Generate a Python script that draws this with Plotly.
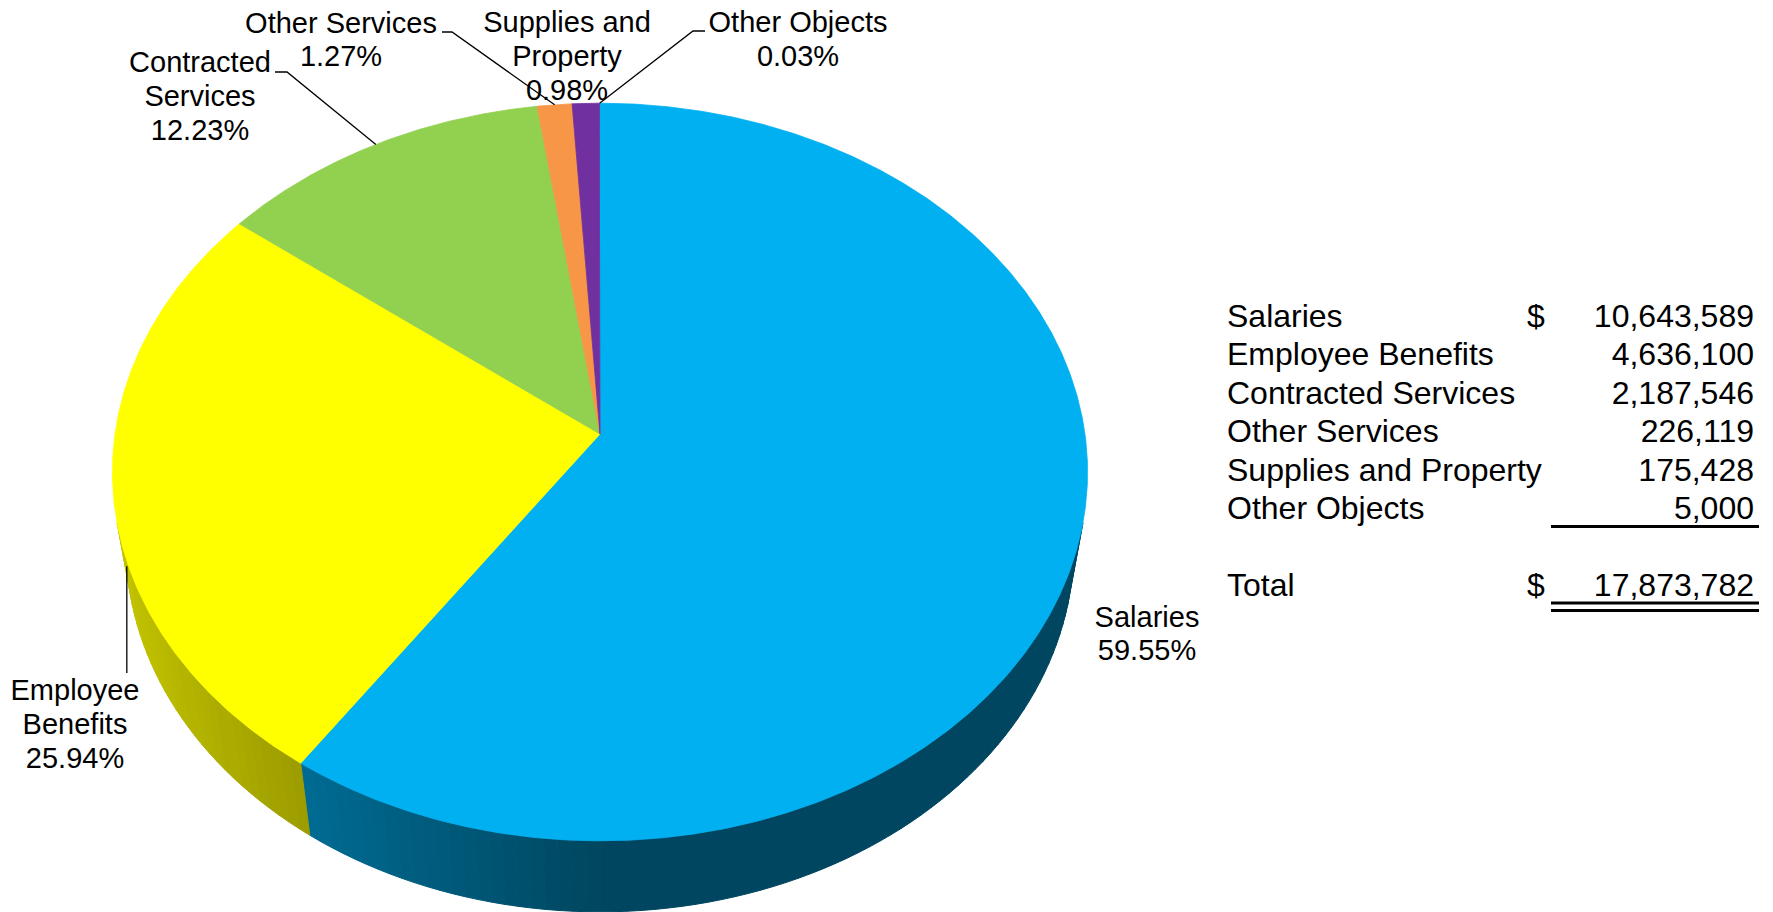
import numpy as np
import plotly.graph_objects as go

# ---- data ----
categories = ["Salaries", "Employee Benefits", "Contracted Services",
              "Other Services", "Supplies and Property", "Other Objects"]
amounts = [10643589, 4636100, 2187546, 226119, 175428, 5000]
percents = [59.55, 25.94, 12.23, 1.27, 0.98, 0.03]
slice_colors = ["#00B0F0", "#FFFF00", "#92D050", "#F79646", "#7030A0", "#5B3C9E"]

# label text lines (without the percentage, which is appended from `percents`)
label_lines = [["Salaries"], ["Employee", "Benefits"], ["Contracted", "Services"],
               ["Other Services"], ["Supplies and", "Property"], ["Other Objects"]]

# ---- page / canvas ----
W, H = 1773, 912
FONT = "Liberation Sans, Arial, sans-serif"
FS_LABEL = 29
FS_TABLE = 32

# ---- 3-D pie camera ----
CX, CY = 600.0, 434.0        # screen position of the pie centre
TILT = np.radians(48.8)      # elevation of the viewer
DIST = 6.39                  # viewer distance (in pie radii)
FOCAL = 3099.0               # projection scale
DEPTH = 0.242                # pie thickness (in pie radii)


def project(theta_deg, z=0.0, r=1.0):
    """Angle measured clockwise from 12 o'clock -> screen pixels."""
    t = np.radians(np.asarray(theta_deg, dtype=float))
    x = r * np.sin(t)
    y = r * np.cos(t)
    d = DIST + y * np.cos(TILT) - z * np.sin(TILT)
    sx = CX + FOCAL * x / d
    sy = CY - FOCAL * (y * np.sin(TILT) + z * np.cos(TILT)) / d
    return sx, sy


def shade(hex_color, theta_deg):
    """Side-wall colour: lit from the left, darker toward the right."""
    s = max(-np.sin(np.radians(theta_deg)), 0.0)
    f = 0.40 + 0.38 * s
    h = hex_color.lstrip("#")
    r, g, b = (int(h[i:i + 2], 16) for i in (0, 2, 4))
    return "rgb({},{},{})".format(int(r * f), int(g * f), int(b * f))


def text_y(cap_centre, fs):
    """y for a 'middle' text point so that the capitals centre on cap_centre."""
    return cap_centre + 0.108 * fs


# slice angle ranges
cum = np.concatenate([[0.0], np.cumsum(percents)])
starts = cum[:-1] / 100.0 * 360.0
ends = cum[1:] / 100.0 * 360.0
mids = (starts + ends) / 2.0

# side wall faces the viewer where cos(theta) < -1/(DIST*cos(TILT))
vis_lim = np.degrees(np.arccos(-1.0 / (DIST * np.cos(TILT))))
vis_lo, vis_hi = vis_lim, 360.0 - vis_lim

fig = go.Figure()

# ---- side walls ----
for a0, a1, col in zip(starts, ends, slice_colors):
    lo, hi = max(a0, vis_lo), min(a1, vis_hi)
    if hi <= lo:
        continue
    n = max(1, int(np.ceil((hi - lo) / 1.5)))
    edges = np.linspace(lo, hi, n + 1)
    for e0, e1 in zip(edges[:-1], edges[1:]):
        ang = np.linspace(e0, e1, 4)
        tx, ty = project(ang, 0.0)
        bx, by = project(ang[::-1], -DEPTH)
        xs = np.concatenate([tx, bx, tx[:1]])
        ys = np.concatenate([ty, by, ty[:1]])
        c = shade(col, (e0 + e1) / 2)
        fig.add_trace(go.Scatter(x=xs, y=ys, mode="lines", fill="toself",
                                 fillcolor=c, line=dict(color=c, width=1),
                                 hoverinfo="skip"))

# ---- top faces ----
for name, a0, a1, col in zip(categories, starts, ends, slice_colors):
    n = max(2, int(np.ceil((a1 - a0) / 0.25)) + 1)
    ang = np.linspace(a0, a1, n)
    ax_, ay_ = project(ang, 0.0)
    xs = np.concatenate([[CX], ax_, [CX]])
    ys = np.concatenate([[CY], ay_, [CY]])
    fig.add_trace(go.Scatter(x=xs, y=ys, mode="lines", fill="toself",
                             fillcolor=col,
                             line=dict(color=col, width=0.8 if a1 - a0 > 1 else 0),
                             name=name, hoverinfo="name"))

# ---- data labels ----
# (centre x, first baseline y, line spacing, elbow end x, elbow start x) per slice
label_pos = [
    (1147, 627, 33, None, None),
    (75, 700, 34, None, None),
    (200, 72, 34, 275, 287),
    (341, 33, 33, 442, 452),
    (567, 32, 34, None, None),
    (798, 32, 34, 705, 693),
]

lab_x, lab_y, lab_t = [], [], []
for lines, pct, (cx, b0, sp, _, _) in zip(label_lines, percents, label_pos):
    rows = lines + ["{:.2f}%".format(pct)]
    for i, t in enumerate(rows):
        lab_x.append(cx)
        lab_y.append(b0 + i * sp - 0.25 * FS_LABEL)
        lab_t.append(t)

# leader lines from each label to the rim of its slice
for i, (cx, b0, sp, ex0, ex1) in enumerate(label_pos):
    m = mids[i]
    lower = np.cos(np.radians(m)) < 0
    px, py = project(m, -DEPTH if lower else 0.0)
    px, py = float(px), float(py)
    if ex0 is not None:
        yy = b0 - 1 if i != 2 else b0
        fig.add_trace(go.Scatter(x=[ex0, ex1, px], y=[yy, yy, py], mode="lines",
                                 line=dict(color="black", width=1.3),
                                 hoverinfo="skip"))
    elif i == 1:
        fig.add_trace(go.Scatter(x=[px, px], y=[py, b0 - 27], mode="lines",
                                 line=dict(color="black", width=1.3),
                                 hoverinfo="skip"))

fig.add_trace(go.Scatter(x=lab_x, y=lab_y, text=lab_t, mode="text",
                         textposition="middle center",
                         textfont=dict(family=FONT, size=FS_LABEL, color="black"),
                         hoverinfo="skip"))

# ---- amounts table ----
TBL_LEFT, TBL_DOLLAR, TBL_RIGHT = 1227, 1527, 1754
ROW0, ROWSP = 315.5, 38.4        # cap centre of the first row, row pitch
TOTAL_ROW = 584.6
RULE_X = [1551, 1759]

row_mid = [ROW0 + i * ROWSP for i in range(len(categories))]
total = sum(amounts)

fig.add_trace(go.Scatter(
    x=[TBL_LEFT] * (len(categories) + 1) + [TBL_DOLLAR, TBL_DOLLAR],
    y=[text_y(c, FS_TABLE) for c in row_mid + [TOTAL_ROW, row_mid[0], TOTAL_ROW]],
    text=categories + ["Total", "$", "$"],
    mode="text", textposition="middle right",
    textfont=dict(family=FONT, size=FS_TABLE, color="black"), hoverinfo="skip"))

fig.add_trace(go.Scatter(
    x=[TBL_RIGHT] * (len(amounts) + 1),
    y=[text_y(c, FS_TABLE) for c in row_mid + [TOTAL_ROW]],
    text=["{:,}".format(v) for v in amounts] + ["{:,}".format(total)],
    mode="text", textposition="middle left",
    textfont=dict(family=FONT, size=FS_TABLE, color="black"), hoverinfo="skip"))

# sum rule and double total rule
for yy in (526.5, 603.0, 610.5):
    fig.add_trace(go.Scatter(x=RULE_X, y=[yy, yy], mode="lines",
                             line=dict(color="black", width=3),
                             hoverinfo="skip"))

fig.update_layout(
    width=W, height=H,
    margin=dict(l=0, r=0, t=0, b=0),
    paper_bgcolor="white", plot_bgcolor="white",
    showlegend=False,
    xaxis=dict(range=[0, W], visible=False, fixedrange=True),
    yaxis=dict(range=[H, 0], visible=False, fixedrange=True),
)

fig.write_html("out.html")
